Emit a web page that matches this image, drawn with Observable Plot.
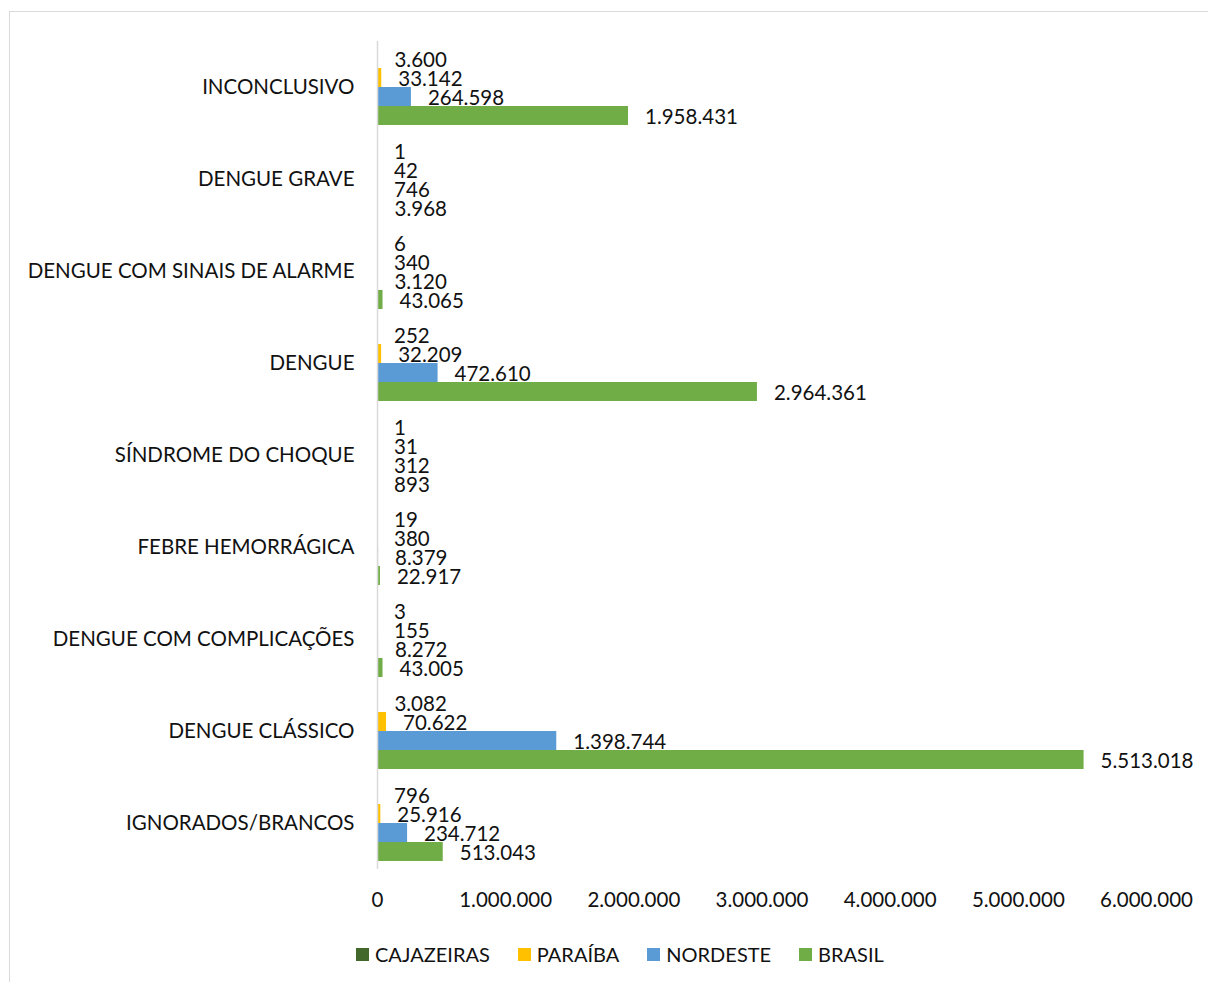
<!DOCTYPE html>
<html>
<head>
<meta charset="utf-8">
<script src="https://cdn.jsdelivr.net/npm/d3@7"></script>
<script src="https://cdn.jsdelivr.net/npm/@observablehq/plot@0.6"></script>
<style>
  html, body { margin: 0; padding: 0; background: #fff; overflow: hidden; width: 1208px; height: 982px; }
  #frame { position: absolute; left: 9px; top: 11px; width: 1300px; height: 1100px; border: 1px solid #d9d9d9; box-sizing: border-box; }
  #chart { position: absolute; left: 0; top: 0; }
  #legend { position: absolute; left: 356px; top: 942px; display: flex; align-items: center; gap: 28px;
            font-family: Lato, "Open Sans", sans-serif; font-size: 20px; color: #111; }
  .item { display: flex; align-items: center; gap: 6px; }
  .sw { width: 13px; height: 13px; display: inline-block; }
</style>
</head>
<body>
<div id="frame"></div>
<div id="chart"></div>
<div id="legend"></div>
<script>
const categories = [
  "INCONCLUSIVO",
  "DENGUE GRAVE",
  "DENGUE COM SINAIS DE ALARME",
  "DENGUE",
  "SÍNDROME DO CHOQUE",
  "FEBRE HEMORRÁGICA",
  "DENGUE COM COMPLICAÇÕES",
  "DENGUE CLÁSSICO",
  "IGNORADOS/BRANCOS"
];
const series = ["CAJAZEIRAS", "PARAÍBA", "NORDESTE", "BRASIL"];
const colors = ["#43682b", "#ffc000", "#5b9bd5", "#70ad47"];
const cajazeiras = [3600, 1, 6, 252, 1, 19, 3, 3082, 796];
const paraiba = [33142, 42, 340, 32209, 31, 380, 155, 70622, 25916];
const nordeste = [264598, 746, 3120, 472610, 312, 8379, 8272, 1398744, 234712];
const brasil = [1958431, 3968, 43065, 2964361, 893, 22917, 43005, 5513018, 513043];
const xTicks = [0, 1000000, 2000000, 3000000, 4000000, 5000000, 6000000];

const valuesBySeries = [cajazeiras, paraiba, nordeste, brasil];
const data = [];
categories.forEach((c, i) => {
  series.forEach((s, j) => {
    data.push({category: c, series: s, value: valuesBySeries[j][i]});
  });
});

const locale = d3.formatLocale({decimal: ",", thousands: ".", grouping: [3], currency: ["", ""]});
const fmt = locale.format(",d");

const chart = Plot.plot({
  width: 1208,
  height: 920,
  marginTop: 40,
  marginBottom: 50,
  marginLeft: 377,
  marginRight: 62,
  style: {fontFamily: "Lato, 'Open Sans', sans-serif", fontSize: "20.5px", color: "#111", background: "transparent"},
  x: {domain: [0, 6000000], ticks: xTicks, tickFormat: fmt, tickSize: 0, tickPadding: 23, label: null},
  y: {domain: series, paddingInner: 0, paddingOuter: 0.364, axis: null},
  fy: {domain: categories, padding: 0, axis: "left", label: null, tickSize: 0, tickPadding: 23},
  color: {domain: series, range: colors},
  marks: [
    Plot.barX(data, {fy: "category", y: "series", x: "value", fill: "series"}),
    Plot.ruleX([0], {stroke: "#d9d9d9", strokeWidth: 1.5}),
    Plot.text(data, {fy: "category", y: "series", x: "value", text: d => fmt(d.value),
      textAnchor: "start", dx: 16.5, dy: 1, fontSize: 20.5, fill: "#111"})
  ]
});
document.getElementById("chart").appendChild(chart);

const legend = document.getElementById("legend");
series.forEach((s, i) => {
  const item = document.createElement("div");
  item.className = "item";
  const sw = document.createElement("span");
  sw.className = "sw";
  sw.style.background = colors[i];
  const t = document.createElement("span");
  t.textContent = s;
  item.appendChild(sw);
  item.appendChild(t);
  legend.appendChild(item);
});
</script>
</body>
</html>
